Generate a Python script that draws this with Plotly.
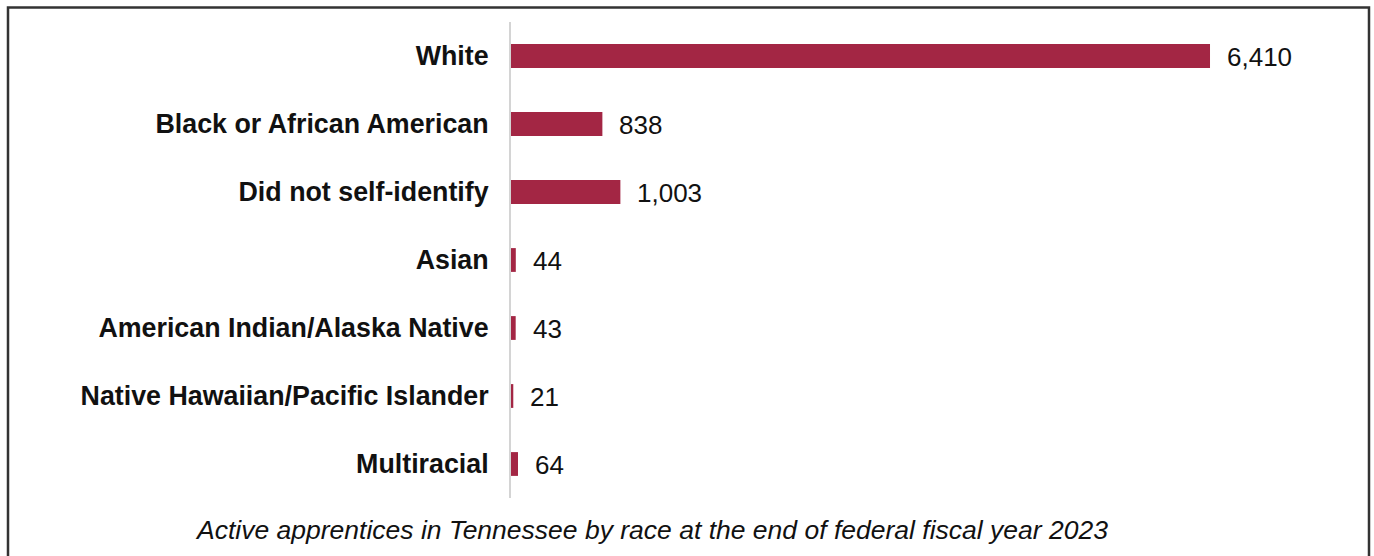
import plotly.graph_objects as go

# Active apprentices by race, FFY 2023
categories = [
    "White",
    "Black or African American",
    "Did not self-identify",
    "Asian",
    "American Indian/Alaska Native",
    "Native Hawaiian/Pacific Islander",
    "Multiracial",
]
counts = [6410, 838, 1003, 44, 43, 21, 64]
caption = "Active apprentices in Tennessee by race at the end of federal fiscal year 2023"

W, H = 1374, 556
ML, MR, MT, MB = 511, 100, 22, 58
BAR_COLOR = "#A32644"
FONT = "Liberation Sans, Arial, sans-serif"

pw = W - ML - MR
ph = H - MT - MB


def px_x(x):
    return (x - ML) / pw


def px_y(y):
    return (H - MB - y) / ph


fig = go.Figure(
    go.Bar(
        x=counts,
        y=categories,
        orientation="h",
        marker=dict(color=BAR_COLOR, line=dict(width=0)),
        width=0.35,
        hoverinfo="skip",
    )
)

# value labels just past the end of each bar
for cat, val in zip(categories, counts):
    fig.add_annotation(
        x=val, y=cat, xref="x", yref="y",
        text=f"{val:,}", showarrow=False,
        xanchor="left", yanchor="middle", xshift=15, yshift=-1,
        font=dict(family=FONT, size=26, color="#111111"),
    )

# caption under the chart
fig.add_annotation(
    x=px_x(651), y=px_y(530), xref="paper", yref="paper",
    text=f"<i>{caption}</i>", showarrow=False,
    xanchor="center", yanchor="middle",
    font=dict(family=FONT, size=26.5, color="#111111"),
)

# outer frame
fig.add_shape(
    type="rect", xref="paper", yref="paper",
    x0=px_x(8), x1=px_x(1369), y0=px_y(580), y1=px_y(7.5),
    line=dict(color="#333333", width=2.5), fillcolor="rgba(0,0,0,0)",
    layer="above",
)

fig.update_layout(
    width=W, height=H,
    margin=dict(l=ML, r=MR, t=MT, b=MB, pad=0),
    paper_bgcolor="white", plot_bgcolor="white",
    showlegend=False,
    xaxis=dict(range=[0, pw / 0.10905], visible=False, fixedrange=True),
    yaxis=dict(
        autorange="reversed",
        showline=True, linecolor="#D4D4D4", linewidth=2,
        showgrid=False, zeroline=False,
        ticks="", ticklabelstandoff=15,
        tickfont=dict(family=FONT, size=26.8, color="#111111", weight="bold"),
        fixedrange=True,
    ),
)

fig.write_html("out.html", config={"displayModeBar": False})
